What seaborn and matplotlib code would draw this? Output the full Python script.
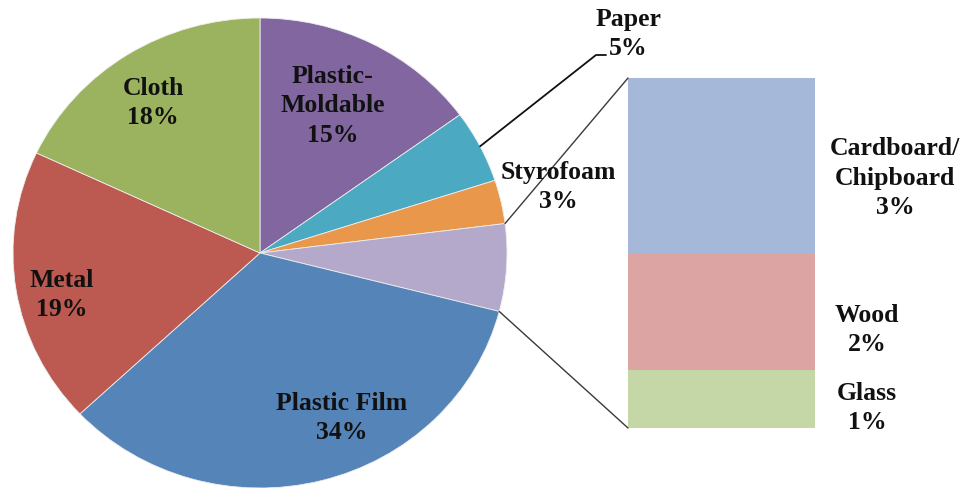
import matplotlib
matplotlib.use("Agg")
import matplotlib.pyplot as plt
import seaborn as sns
import numpy as np

# --- data -------------------------------------------------------------
pie_labels = ["Plastic-\nMoldable", "Paper", "Styrofoam", None,
              "Plastic Film", "Metal", "Cloth"]
bar_labels = ["Cardboard/\nChipboard", "Wood", "Glass"]
bar_values = [3, 2, 1]
pie_values = [15, 5, 3, sum(bar_values), 34, 19, 18]

pie_colors = ["#8166A0", "#4BA9C2", "#E8974B", "#B4A9CA",
              "#5584B8", "#BC5A51", "#9BB25E"]
bar_colors = ["#A5B8D9", "#DCA4A3", "#C5D6A7"]

# --- layout (pixels) ---------------------------------------------------
W, H, DPI = 966, 488, 100
cx, cy, rx, ry = 260, 253, 247, 235
bar_left, bar_right, bar_top, bar_bot = 628, 815, 78, 428

pie_text_pos = {0: (333, 106), 1: (628, 34), 2: (558, 187),
                4: (342, 418), 5: (62, 295), 6: (153, 103)}
bar_text_pos = [(895, 178), (867, 330), (867, 408)]

sns.set_theme(style="white")
plt.rcParams["font.family"] = ["Liberation Serif", "DejaVu Serif"]
font = dict(fontsize=18.5, fontweight="bold", color="#111111",
            ha="center", va="center", multialignment="center",
            linespacing=1.38)

fig = plt.figure(figsize=(W / DPI, H / DPI), dpi=DPI)
fig.patch.set_facecolor("white")

# pie of the main categories
pax = fig.add_axes([(cx - rx) / W, (H - cy - ry) / H, 2 * rx / W, 2 * ry / H])
pax.pie(pie_values, colors=pie_colors, startangle=90, counterclock=False,
        wedgeprops=dict(edgecolor="#EEEEEE", linewidth=0.6))
pax.set_xlim(-1, 1)
pax.set_ylim(-1, 1)
pax.set_aspect("auto")
pax.axis("off")

# stacked bar breaking down the "other" slice
bax = fig.add_axes([bar_left / W, (H - bar_bot) / H,
                    (bar_right - bar_left) / W, (bar_bot - bar_top) / H])
cum = np.cumsum(bar_values[::-1])[::-1]  # top of each segment
for top, col in zip(cum, bar_colors):
    sns.barplot(x=["stack"], y=[top], color=col, width=1.0, saturation=1,
                linewidth=0, ax=bax)
bax.set_xlim(-0.5, 0.5)
bax.set_ylim(0, sum(bar_values))
bax.axis("off")

# overlay in pixel coordinates for connectors and labels
oax = fig.add_axes([0, 0, 1, 1], zorder=5)
oax.set_xlim(0, W)
oax.set_ylim(H, 0)
oax.axis("off")
oax.patch.set_alpha(0)


def edge_point(angle_deg):
    a = np.deg2rad(angle_deg)
    return cx + rx * np.cos(a), cy - ry * np.sin(a)


bounds = 90 - 360 * np.concatenate([[0], np.cumsum(pie_values)]) / sum(pie_values)

# connectors from the "other" slice to the bar
p_start = edge_point(bounds[3])
p_end = edge_point(bounds[4])
oax.plot([p_start[0], bar_left], [p_start[1], bar_top], color="#3A3A3A", lw=1.0)
oax.plot([p_end[0], bar_left], [p_end[1], bar_bot], color="#3A3A3A", lw=1.0)

# leader line for the Paper slice
mid_paper = (bounds[1] + bounds[2]) / 2
pp = edge_point(mid_paper)
oax.plot([pp[0], 596, 606], [pp[1], 55, 55], color="#111111", lw=1.3)

for i, (lab, val) in enumerate(zip(pie_labels, pie_values)):
    if lab is None:
        continue
    x, y = pie_text_pos[i]
    oax.text(x, y, f"{lab}\n{val}%", **font)

for (x, y), lab, val in zip(bar_text_pos, bar_labels, bar_values):
    oax.text(x, y, f"{lab}\n{val}%", **font)

fig.savefig("out.png", dpi=DPI, facecolor="white")
